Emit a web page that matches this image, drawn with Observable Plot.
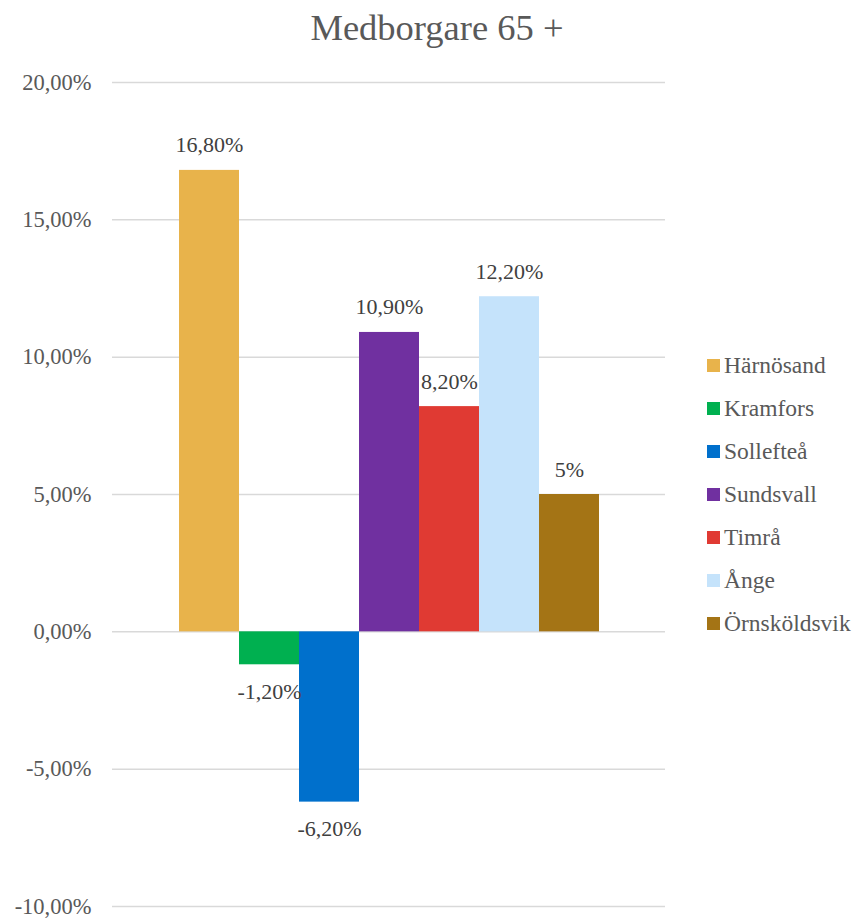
<!DOCTYPE html>
<html>
<head>
<meta charset="utf-8">
<script src="https://cdn.jsdelivr.net/npm/d3@7"></script>
<script src="https://cdn.jsdelivr.net/npm/@observablehq/plot@0.6"></script>
<style>
  html, body { margin: 0; padding: 0; background: #fff; }
  #wrap { position: relative; width: 856px; height: 918px; overflow: hidden; }
  #title { width: 856px; height: 56px; line-height: 56px; box-sizing: border-box; padding-left: 18px;
           text-align: center; font-family: "Liberation Serif", "DejaVu Serif", serif; font-size: 36.5px; color: #595959; }
  #legend { position: absolute; left: 707px; top: 344px; font-family: "Liberation Serif", "DejaVu Serif", serif; font-size: 23.5px; color: #595959; }
  .li { height: 43px; display: flex; align-items: center; white-space: nowrap; }
  .li span.sw { display: inline-block; width: 13px; height: 13px; margin-right: 4px; }
  svg { display: block; }
</style>
</head>
<body>
<div id="wrap">
  <div id="title">Medborgare 65 +</div>
  <div id="chart"></div>
  <div id="legend"></div>
</div>
<script>
const municipalities = ["Härnösand", "Kramfors", "Sollefteå", "Sundsvall", "Timrå", "Ånge", "Örnsköldsvik"];
const values = [16.8, -1.2, -6.2, 10.9, 8.2, 12.2, 5.0];
const valueLabels = ["16,80%", "-1,20%", "-6,20%", "10,90%", "8,20%", "12,20%", "5%"];
const colors = ["#E8B34B", "#00B050", "#0070CC", "#7030A0", "#E03A33", "#C5E3FB", "#A47415"];
const yTicks = [-10, -5, 0, 5, 10, 15, 20];

const data = municipalities.map((name, i) => ({name, value: values[i], label: valueLabels[i]}));
const pos = data.filter(d => d.value >= 0);
const neg = data.filter(d => d.value < 0);

const fontSerif = "'Liberation Serif', 'DejaVu Serif', serif";

const chart = Plot.plot({
  width: 856,
  height: 862,
  marginTop: 26,
  marginBottom: 12,
  marginLeft: 112,
  marginRight: 191,
  style: {fontFamily: fontSerif, background: "#fff"},
  x: {type: "band", domain: municipalities, paddingInner: 0, paddingOuter: 1.086, axis: null},
  y: {domain: [-10, 20], axis: null},
  color: {domain: municipalities, range: colors},
  marks: [
    Plot.gridY(yTicks, {stroke: "#d9d9d9", strokeOpacity: 1, strokeWidth: 1.5}),
    Plot.axisY(yTicks, {tickSize: 0, tickPadding: 21, fontSize: 22.5, fill: "#595959",
      tickFormat: d => d.toFixed(2).replace(".", ",") + "%", label: null}),
    Plot.barY(data, {x: "name", y: "value", fill: "name", inset: 0}),
    Plot.text(pos, {x: "name", y: "value", text: "label", dy: -25, fontSize: 22, fill: "#404040"}),
    Plot.text(neg, {x: "name", y: "value", text: "label", dy: 27, fontSize: 22, fill: "#404040"})
  ]
});
document.getElementById("chart").appendChild(chart);

const legend = document.getElementById("legend");
municipalities.forEach((name, i) => {
  const row = document.createElement("div");
  row.className = "li";
  const sw = document.createElement("span");
  sw.className = "sw";
  sw.style.background = colors[i];
  row.appendChild(sw);
  row.appendChild(document.createTextNode(name));
  legend.appendChild(row);
});
</script>
</body>
</html>
